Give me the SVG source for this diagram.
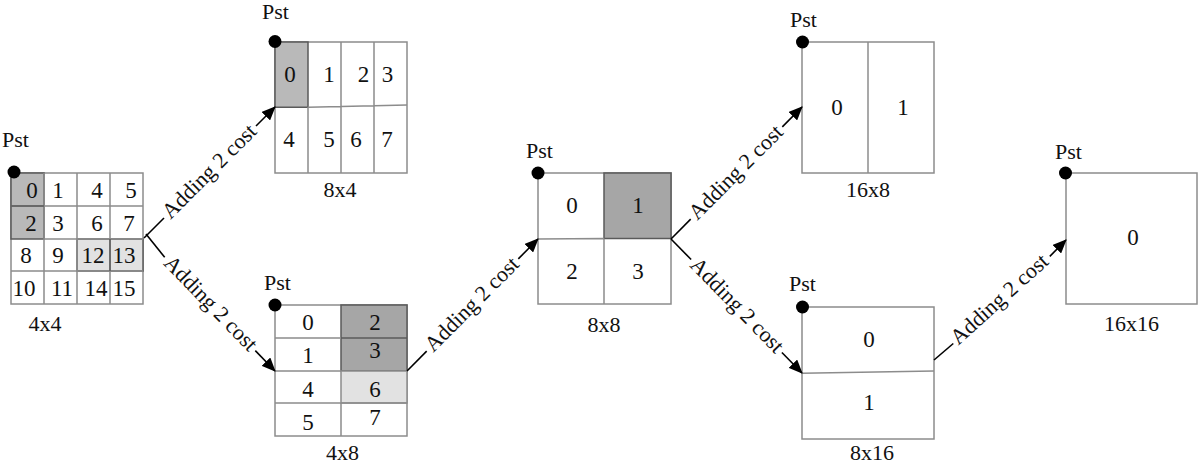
<svg xmlns="http://www.w3.org/2000/svg" width="1200" height="465" viewBox="0 0 1200 465">
<style>
  text { font-family: "Liberation Serif", "Times New Roman", serif; fill: #111; }
  .d { font-size: 23px; text-anchor: middle; }
  .lbl { font-size: 22px; text-anchor: middle; }
  .pst { font-size: 22px; }
  .cost { font-size: 22px; text-anchor: middle; }
  .grid { fill: #fff; stroke: #8c8c8c; stroke-width: 1.5; }
  .gl { stroke: #8c8c8c; stroke-width: 1.5; fill: none; }
  .dark { fill: #b9b9b9; stroke: #5a5a5a; stroke-width: 1.5; }
  .darker { fill: #a6a6a6; stroke: #5a5a5a; stroke-width: 1.5; }
  .light { fill: #e2e2e2; stroke: #5a5a5a; stroke-width: 1.5; }
  .light2 { fill: #e2e2e2; stroke: #8c8c8c; stroke-width: 1.5; }
  .con { stroke: #000; stroke-width: 1.6; fill: none; }
  .dot { fill: #000; }
</style>
<defs>
  <marker id="arr" markerUnits="userSpaceOnUse" markerWidth="14" markerHeight="12" refX="13" refY="6" orient="auto">
    <path d="M0,0 L14,6 L0,12 Z" fill="#000"/>
  </marker>
</defs>
<rect width="1200" height="465" fill="#fff"/>

<g id="node-4x4">
  <rect class="grid" x="11" y="173" width="132" height="131"/>
  <rect class="dark" x="11" y="173" width="33" height="66"/>
  <rect class="light" x="77" y="239" width="66" height="32"/>
  <path class="gl" d="M44,173 V304 M77,173 V304 M110,173 V304 M11,206 H143 M44,239 H143 M11,271 H143"/>
  <path d="M11,206 H44" stroke="#5a5a5a" stroke-width="1.5"/>
  <path d="M110,239 V271" stroke="#5a5a5a" stroke-width="1.5"/>
  <circle class="dot" cx="14" cy="172" r="6.5"/>
  <text class="pst" x="2" y="147">Pst</text>
  <text class="d" x="32" y="198">0</text><text class="d" x="58" y="198">1</text><text class="d" x="97" y="198">4</text><text class="d" x="131" y="198">5</text>
  <text class="d" x="31" y="231">2</text><text class="d" x="58" y="231">3</text><text class="d" x="97" y="231">6</text><text class="d" x="129" y="231">7</text>
  <text class="d" x="26" y="263">8</text><text class="d" x="58" y="263">9</text><text class="d" x="93" y="263">12</text><text class="d" x="124" y="263">13</text>
  <text class="d" x="24" y="296">10</text><text class="d" x="62" y="296">11</text><text class="d" x="96" y="296">14</text><text class="d" x="124" y="296">15</text>
  <text class="lbl" x="45" y="331">4x4</text>
</g>

<g id="node-8x4">
  <rect class="grid" x="275" y="42" width="132" height="131"/>
  <path class="dark" d="M275,42 H308 V107.3 H275 Z"/>
  <path class="gl" d="M308,107.3 L407,105 M341,42 V173 M374,42 V173 M308,107 V173"/>
  <circle class="dot" cx="275" cy="41.5" r="6.5"/>
  <text class="pst" x="262" y="19">Pst</text>
  <text class="d" x="290" y="82">0</text><text class="d" x="329" y="82">1</text><text class="d" x="363.5" y="82">2</text><text class="d" x="387.5" y="82">3</text>
  <text class="d" x="289" y="147">4</text><text class="d" x="329" y="147">5</text><text class="d" x="356" y="147">6</text><text class="d" x="387" y="147">7</text>
  <text class="lbl" x="340" y="197">8x4</text>
</g>

<g id="node-4x8">
  <rect class="grid" x="275" y="305" width="132" height="131"/>
  <rect class="darker" x="341" y="305" width="66" height="66"/>
  <rect class="light2" x="341" y="371" width="66" height="32"/>
  <path class="gl" d="M275,338 H341 M275,371 H341 M275,403 H407 M341,403 V436"/>
  <path d="M341,338 H407" stroke="#5a5a5a" stroke-width="1.5"/>
  <circle class="dot" cx="275" cy="305" r="6.5"/>
  <text class="pst" x="264" y="290">Pst</text>
  <text class="d" x="308" y="330">0</text><text class="d" x="375" y="330">2</text>
  <text class="d" x="308" y="363">1</text><text class="d" x="375" y="358">3</text>
  <text class="d" x="308" y="397">4</text><text class="d" x="375" y="397">6</text>
  <text class="d" x="308" y="430">5</text><text class="d" x="375" y="425">7</text>
  <text class="lbl" x="342.5" y="460">4x8</text>
</g>

<g id="node-8x8">
  <rect class="grid" x="538" y="173" width="133" height="131"/>
  <rect class="darker" x="604" y="173" width="67" height="65.5"/>
  <path class="gl" d="M538,239 L604,238.6 M604,238.6 V304"/>
  <circle class="dot" cx="538" cy="173" r="6.5"/>
  <text class="pst" x="526" y="158">Pst</text>
  <text class="d" x="572" y="213">0</text><text class="d" x="638" y="213">1</text>
  <text class="d" x="572" y="279">2</text><text class="d" x="638" y="279">3</text>
  <text class="lbl" x="604" y="332">8x8</text>
</g>

<g id="node-16x8">
  <rect class="grid" x="802" y="42" width="132" height="131"/>
  <path class="gl" d="M868,42 V173"/>
  <circle class="dot" cx="802.5" cy="42" r="6.5"/>
  <text class="pst" x="790" y="27">Pst</text>
  <text class="d" x="837" y="115">0</text><text class="d" x="903" y="115">1</text>
  <text class="lbl" x="868" y="197">16x8</text>
</g>

<g id="node-8x16">
  <rect class="grid" x="802" y="307" width="132" height="132"/>
  <path class="gl" d="M802,373.3 L934,371"/>
  <circle class="dot" cx="802.5" cy="307" r="6.5"/>
  <text class="pst" x="789" y="291">Pst</text>
  <text class="d" x="869" y="347">0</text><text class="d" x="869" y="410">1</text>
  <text class="lbl" x="872" y="460">8x16</text>
</g>

<g id="node-16x16">
  <rect class="grid" x="1066" y="173" width="131" height="131"/>
  <circle class="dot" cx="1065.5" cy="173" r="6.5"/>
  <text class="pst" x="1055" y="159">Pst</text>
  <text class="d" x="1133" y="245">0</text>
  <text class="lbl" x="1131.5" y="331">16x16</text>
</g>

<g id="connectors">
  <path class="con" d="M144,238 L164,218"/>
  <path class="con" d="M256,126 L275,107" marker-end="url(#arr)"/>
  <text class="cost" transform="translate(210,172) rotate(-45)" y="6">Adding 2 cost</text>

  <path class="con" d="M146,234 L164.7,257.3"/>
  <path class="con" d="M255.3,350.6 L275,371" marker-end="url(#arr)"/>
  <text class="cost" transform="translate(210,304) rotate(45.87)" y="6">Adding 2 cost</text>

  <path class="con" d="M407,371 L426.7,351.1"/>
  <path class="con" d="M518.3,258.9 L538,239" marker-end="url(#arr)"/>
  <text class="cost" transform="translate(472.5,305) rotate(-45.2)" y="6">Adding 2 cost</text>

  <path class="con" d="M671,239 L690.7,219.1"/>
  <path class="con" d="M782.3,126.9 L802,107" marker-end="url(#arr)"/>
  <text class="cost" transform="translate(736.5,173) rotate(-45.2)" y="6">Adding 2 cost</text>

  <path class="con" d="M671,239 L691.1,259.5"/>
  <path class="con" d="M781.9,352.5 L802,373" marker-end="url(#arr)"/>
  <text class="cost" transform="translate(736.5,306) rotate(45.65)" y="6">Adding 2 cost</text>

  <path class="con" d="M934,360 L953.3,343.5"/>
  <path class="con" d="M1049.8,256.4 L1066,240" marker-end="url(#arr)"/>
  <text class="cost" transform="translate(1000,300) rotate(-42.06)" y="6">Adding 2 cost</text>
</g>
</svg>
